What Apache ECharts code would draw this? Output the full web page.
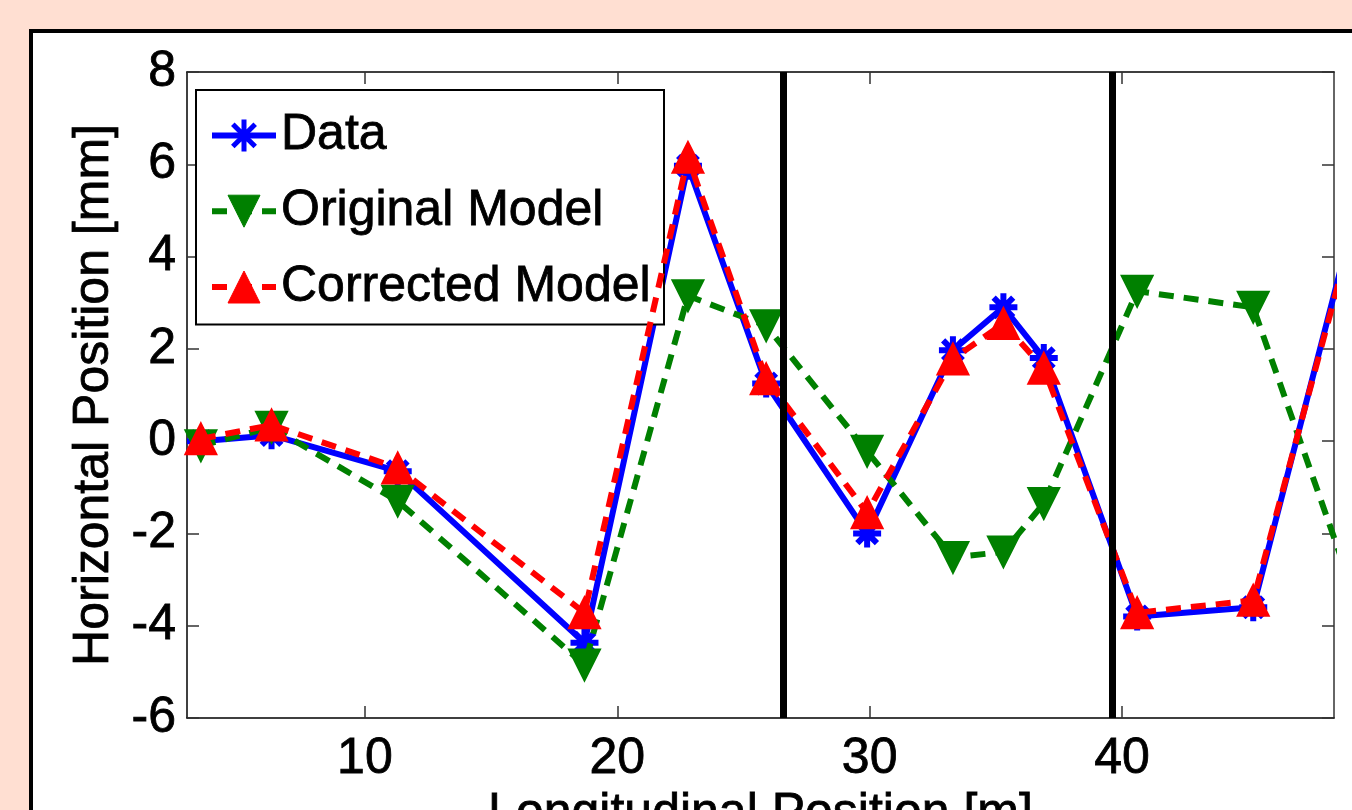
<!DOCTYPE html>
<html>
<head>
<meta charset="utf-8">
<script src="https://cdn.jsdelivr.net/npm/echarts@6/dist/echarts.min.js"></script>
<style>
  html, body { margin: 0; padding: 0; background: #FFDFD2; }
  #main { width: 1352px; height: 810px; }
</style>
</head>
<body>
<div id="main"></div>
<script>
// longitudinal position of each station [m]
var stations = [3.5, 6.3, 11.3, 18.7, 22.8, 25.9, 29.9, 33.3, 35.3, 36.9, 40.6, 45.2, 49.5];
var dataVals = [0.0, 0.13, -0.65, -4.37, 5.97, 1.25, -2.0, 1.97, 2.9, 1.8, -3.8, -3.6, 5.5];
var origVals = [-0.1, 0.3, -1.3, -4.85, 3.15, 2.5, -0.22, -2.52, -2.4, -1.35, 3.25, 2.9, -3.8];
var corrVals = [0.05, 0.35, -0.58, -3.72, 6.15, 1.35, -1.55, 1.78, 2.55, 1.58, -3.72, -3.45, 5.3];
var dividers = [26.57, 39.6];
var xTicks = [10, 20, 30, 40];

var pairs = function (ys) {
    var out = [];
    for (var i = 0; i < stations.length; i++) {
        out.push([stations[i], ys[i]]);
    }
    return out;
};

var FONT = 'Liberation Sans, Arial, sans-serif';
var asterisk = 'path://M10,0L10,20M0,10L20,10M3,3L17,17M3,17L17,3';
// slightly heavier text, the reference glyphs look thick
var txt = { fontSize: 50, color: '#000', fontFamily: FONT, textBorderColor: '#000', textBorderWidth: 0.8 };

var myChart = echarts.init(document.getElementById('main'));

var option = {
    backgroundColor: '#FFDFD2',
    animation: false,
    textStyle: { fontFamily: FONT },
    graphic: [
        {
            type: 'rect',
            z: -10,
            shape: { x: 31, y: 31, width: 1500, height: 1000 },
            style: { fill: '#ffffff', stroke: '#000000', lineWidth: 4 }
        }
    ],
    grid: { left: 187, top: 72, right: 18, bottom: 92, containLabel: false, outerBoundsMode: 'none' },
    legend: {
        orient: 'vertical',
        left: 196,
        top: 90,
        padding: [20, 13, 12, 13],
        itemGap: 25,
        itemWidth: 64,
        itemHeight: 40,
        backgroundColor: '#ffffff',
        borderColor: '#000000',
        borderWidth: 2,
        textStyle: txt,
        lineStyle: { width: 6 },
        data: [
            { name: 'Data', itemStyle: { borderWidth: 5 } },
            { name: 'Original Model', itemStyle: { borderWidth: 1 } },
            { name: 'Corrected Model', itemStyle: { borderWidth: 1 } }
        ]
    },
    xAxis: [
        {
            type: 'value',
            min: 2.95,
            max: 48.4,
            name: 'Longitudinal Position [m]',
            nameLocation: 'middle',
            nameGap: 58,
            nameTextStyle: txt,
            axisLine: { show: true, onZero: false, lineStyle: { color: '#000', width: 1.5 } },
            axisTick: { show: true, inside: true, length: 12, customValues: xTicks, lineStyle: { color: '#333', width: 1.5 } },
            axisLabel: Object.assign({ margin: 16, customValues: xTicks }, txt),
            splitLine: { show: false }
        },
        {
            type: 'value',
            position: 'top',
            min: 2.95,
            max: 48.4,
            axisLine: { show: true, onZero: false, lineStyle: { color: '#000', width: 1.5 } },
            axisTick: { show: true, inside: true, length: 12, customValues: xTicks, lineStyle: { color: '#333', width: 1.5 } },
            axisLabel: { show: false },
            splitLine: { show: false }
        }
    ],
    yAxis: [
        {
            type: 'value',
            min: -6,
            max: 8,
            interval: 2,
            name: 'Horizontal Position [mm]',
            nameLocation: 'middle',
            nameGap: 68,
            nameTextStyle: txt,
            axisLine: { show: true, onZero: false, lineStyle: { color: '#000', width: 1.5 } },
            axisTick: { show: true, inside: true, length: 12, lineStyle: { color: '#333', width: 1.5 } },
            axisLabel: Object.assign({ margin: 11 }, txt),
            splitLine: { show: false }
        },
        {
            type: 'value',
            position: 'right',
            min: -6,
            max: 8,
            interval: 2,
            axisLine: { show: true, onZero: false, lineStyle: { color: '#333', width: 1.5 } },
            axisTick: { show: true, inside: true, length: 12, lineStyle: { color: '#333', width: 1.5 } },
            axisLabel: { show: false },
            splitLine: { show: false }
        }
    ],
    series: [
        {
            name: 'Data',
            type: 'line',
            data: pairs(dataVals),
            clip: true,
            symbol: asterisk,
            symbolSize: 28,
            lineStyle: { color: '#0000ff', width: 6 },
            itemStyle: { color: '#0000ff', borderColor: '#0000ff', borderWidth: 6 },
            z: 3
        },
        {
            name: 'Original Model',
            type: 'line',
            data: pairs(origVals),
            clip: true,
            symbol: 'triangle',
            symbolRotate: 180,
            symbolSize: 31,
            lineStyle: { color: '#008000', width: 6, type: [15, 10] },
            itemStyle: { color: '#008000', borderColor: '#008000', borderWidth: 2 },
            z: 4
        },
        {
            name: 'Corrected Model',
            type: 'line',
            data: pairs(corrVals),
            clip: true,
            symbol: 'triangle',
            symbolSize: 31,
            lineStyle: { color: '#ff0000', width: 6, type: [15, 10] },
            itemStyle: { color: '#ff0000', borderColor: '#ff0000', borderWidth: 2 },
            z: 5,
            markLine: {
                silent: true,
                symbol: 'none',
                label: { show: false },
                lineStyle: { color: '#000', width: 7, type: 'solid' },
                data: dividers.map(function (v) { return { xAxis: v }; }),
                z: 10
            }
        }
    ]
};

myChart.setOption(option);
</script>
</body>
</html>
